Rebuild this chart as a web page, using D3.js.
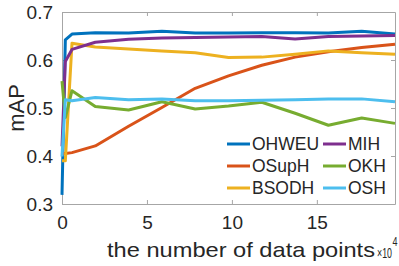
<!DOCTYPE html>
<html>
<head>
<meta charset="utf-8">
<script src="https://cdn.jsdelivr.net/npm/d3@7"></script>
<style>
  body { margin: 0; background: #fff; }
  text { font-family: "Liberation Sans", Arial, sans-serif; fill: #262626; }
</style>
</head>
<body>
<div id="chart"></div>
<script>
// x positions (x 10^4 data points)
const xVals = [0, 0.196, 0.588, 1.96, 3.92, 5.88, 7.84, 9.8, 11.76, 13.72, 15.68, 17.64, 19.6];

const ohweu = [0.319, 0.642, 0.654, 0.657, 0.656, 0.660, 0.656, 0.656, 0.657, 0.657, 0.656, 0.660, 0.654];
const osuph = [0.405, 0.405, 0.407, 0.421, 0.462, 0.501, 0.541, 0.567, 0.589, 0.606, 0.617, 0.626, 0.633];
const bsodh = [0.390, 0.390, 0.635, 0.627, 0.623, 0.619, 0.615, 0.605, 0.606, 0.612, 0.619, 0.615, 0.612];
const mih   = [0.420, 0.597, 0.622, 0.637, 0.643, 0.646, 0.647, 0.648, 0.649, 0.644, 0.649, 0.650, 0.651];
const okh   = [0.556, 0.480, 0.536, 0.503, 0.496, 0.513, 0.498, 0.504, 0.512, 0.489, 0.464, 0.479, 0.468];
const osh   = [0.399, 0.517, 0.515, 0.522, 0.517, 0.519, 0.515, 0.515, 0.516, 0.517, 0.519, 0.519, 0.513];

const seriesNames = ['OHWEU', 'OSupH', 'BSODH', 'MIH', 'OKH', 'OSH'];
const seriesColors = ['#0072BD', '#D95319', '#EDB120', '#7E2F8E', '#77AC30', '#4DBEEE'];
const seriesValues = [ohweu, osuph, bsodh, mih, okh, osh];

const xTicks = [0, 5, 10, 15];
const yTicks = [0.3, 0.4, 0.5, 0.6, 0.7];

const width = 399, height = 266;
const margin = { left: 62, right: 4, top: 12, bottom: 62 };

const svg = d3.select('#chart').append('svg')
    .attr('width', width)
    .attr('height', height);

const x = d3.scaleLinear().domain([0, 19.6]).range([margin.left, width - margin.right]);
const y = d3.scaleLinear().domain([0.3, 0.7]).range([height - margin.bottom, margin.top]);

const boxColor = '#a6a6a6';

// Axes with inward ticks
const styleAxis = g => {
    g.select('.domain').attr('stroke', boxColor);
    g.selectAll('.tick line').attr('stroke', boxColor);
    g.selectAll('.tick text').style('font-size', '19px').attr('fill', '#262626');
};

svg.append('g')
    .attr('transform', `translate(0,${y(0.3)})`)
    .call(d3.axisBottom(x).tickValues(xTicks).tickSizeInner(-4).tickSizeOuter(0).tickPadding(12).tickFormat(d3.format('d')))
    .call(styleAxis);

svg.append('g')
    .attr('transform', `translate(0,${y(0.7)})`)
    .call(d3.axisTop(x).tickValues(xTicks).tickSizeInner(-4).tickSizeOuter(0).tickFormat(''))
    .call(styleAxis);

svg.append('g')
    .attr('transform', `translate(${x(0)},0)`)
    .call(d3.axisLeft(y).tickValues(yTicks).tickSizeInner(-4).tickSizeOuter(0).tickPadding(9).tickFormat(d3.format('.1f')))
    .call(styleAxis);

svg.append('g')
    .attr('transform', `translate(${x(19.6)},0)`)
    .call(d3.axisRight(y).tickValues(yTicks).tickSizeInner(-4).tickSizeOuter(0).tickFormat(''))
    .call(styleAxis);

// Lines
const line = d3.line()
    .x((d, i) => x(xVals[i]))
    .y(d => y(d));

seriesValues.forEach((vals, i) => {
    svg.append('path')
        .datum(vals)
        .attr('fill', 'none')
        .attr('stroke', seriesColors[i])
        .attr('stroke-width', 3)
        .attr('stroke-linejoin', 'round')
        .attr('d', line);
});

// Axis labels
svg.append('text')
    .attr('transform', `translate(24,${(y(0.3) + y(0.7)) / 2}) rotate(-90)`)
    .attr('text-anchor', 'middle')
    .style('font-size', '22px')
    .text('mAP');

svg.append('text')
    .attr('x', 107)
    .attr('y', 257)
    .attr('textLength', 268)
    .attr('lengthAdjust', 'spacingAndGlyphs')
    .style('font-size', '21px')
    .text('the number of data points');

// exponent of the x axis
svg.append('text')
    .attr('x', 377)
    .attr('y', 258)
    .attr('textLength', 15)
    .attr('lengthAdjust', 'spacingAndGlyphs')
    .style('font-size', '15px')
    .text('\u00d710');
svg.append('text')
    .attr('x', 392.5)
    .attr('y', 246)
    .attr('textLength', 5)
    .attr('lengthAdjust', 'spacingAndGlyphs')
    .style('font-size', '12px')
    .text('4');

// Legend, filled column by column
const legend = svg.append('g');
seriesNames.forEach((name, i) => {
    const col = Math.floor(i / 3), row = i % 3;
    const lx = 227 + col * 96, ly = 144 + row * 22;
    legend.append('line')
        .attr('x1', lx).attr('x2', lx + 23)
        .attr('y1', ly).attr('y2', ly)
        .attr('stroke', seriesColors[i])
        .attr('stroke-width', 3);
    legend.append('text')
        .attr('x', lx + 25)
        .attr('y', ly + 6)
        .style('font-size', '17.5px')
        .text(name);
});
</script>
</body>
</html>
